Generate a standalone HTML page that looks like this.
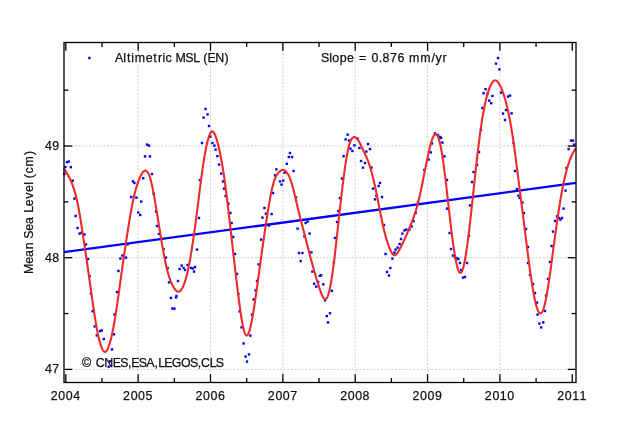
<!DOCTYPE html><html><head><meta charset="utf-8"><style>html,body{margin:0;padding:0;background:#fff;}svg{display:block;will-change:transform;}text{font-family:"Liberation Sans", sans-serif;fill:#111;stroke:#111;stroke-width:0.25px;}</style></head><body>
<svg width="640" height="425" viewBox="0 0 640 425">
<rect width="640" height="425" fill="#fff"/>
<g stroke="#cfcfcf" stroke-width="1" stroke-dasharray="2,1.6" fill="none"><line x1="138.15" y1="42.5" x2="138.15" y2="382.5"/><line x1="210.50" y1="42.5" x2="210.50" y2="382.5"/><line x1="282.85" y1="42.5" x2="282.85" y2="382.5"/><line x1="355.20" y1="42.5" x2="355.20" y2="382.5"/><line x1="427.55" y1="42.5" x2="427.55" y2="382.5"/><line x1="499.90" y1="42.5" x2="499.90" y2="382.5"/><line x1="64" y1="369.40" x2="576" y2="369.40"/><line x1="64" y1="257.70" x2="576" y2="257.70"/><line x1="64" y1="146.00" x2="576" y2="146.00"/></g>
<g fill="#0000ff"><rect x="204.4" y="107.8" width="2.4" height="2.4"/><rect x="206.4" y="113.2" width="2.4" height="2.4"/><rect x="202.4" y="116.4" width="2.4" height="2.4"/><rect x="207.8" y="124.8" width="2.4" height="2.4"/><rect x="496.8" y="56.8" width="2.4" height="2.4"/><rect x="494.8" y="62.4" width="2.4" height="2.4"/><rect x="498.2" y="68.2" width="2.4" height="2.4"/><rect x="484.4" y="88.0" width="2.4" height="2.4"/><rect x="482.4" y="92.0" width="2.4" height="2.4"/><rect x="486.4" y="92.4" width="2.4" height="2.4"/><rect x="491.2" y="94.8" width="2.4" height="2.4"/><rect x="499.8" y="91.4" width="2.4" height="2.4"/><rect x="506.8" y="95.4" width="2.4" height="2.4"/><rect x="508.8" y="94.4" width="2.4" height="2.4"/><rect x="488.0" y="99.4" width="2.4" height="2.4"/><rect x="490.0" y="102.0" width="2.4" height="2.4"/><rect x="481.2" y="106.8" width="2.4" height="2.4"/><rect x="504.8" y="108.8" width="2.4" height="2.4"/><rect x="501.8" y="112.4" width="2.4" height="2.4"/><rect x="510.4" y="112.2" width="2.4" height="2.4"/><rect x="503.8" y="118.8" width="2.4" height="2.4"/><rect x="64.2" y="165.8" width="2.4" height="2.4"/><rect x="65.8" y="161.0" width="2.4" height="2.4"/><rect x="67.5" y="160.3" width="2.4" height="2.4"/><rect x="69.6" y="166.0" width="2.4" height="2.4"/><rect x="71.5" y="179.5" width="2.4" height="2.4"/><rect x="73.2" y="197.4" width="2.4" height="2.4"/><rect x="63.1" y="172.8" width="2.4" height="2.4"/><rect x="131.8" y="180.2" width="2.4" height="2.4"/><rect x="133.2" y="181.8" width="2.4" height="2.4"/><rect x="130.0" y="195.8" width="2.4" height="2.4"/><rect x="135.2" y="196.4" width="2.4" height="2.4"/><rect x="140.0" y="200.4" width="2.4" height="2.4"/><rect x="142.0" y="177.0" width="2.4" height="2.4"/><rect x="143.8" y="155.2" width="2.4" height="2.4"/><rect x="148.8" y="155.2" width="2.4" height="2.4"/><rect x="145.8" y="143.4" width="2.4" height="2.4"/><rect x="147.8" y="144.4" width="2.4" height="2.4"/><rect x="150.8" y="172.8" width="2.4" height="2.4"/><rect x="152.4" y="192.4" width="2.4" height="2.4"/><rect x="154.8" y="210.2" width="2.4" height="2.4"/><rect x="200.8" y="141.8" width="2.4" height="2.4"/><rect x="209.2" y="135.4" width="2.4" height="2.4"/><rect x="211.2" y="141.8" width="2.4" height="2.4"/><rect x="213.2" y="144.4" width="2.4" height="2.4"/><rect x="214.4" y="148.4" width="2.4" height="2.4"/><rect x="216.2" y="155.0" width="2.4" height="2.4"/><rect x="218.0" y="163.4" width="2.4" height="2.4"/><rect x="220.0" y="172.4" width="2.4" height="2.4"/><rect x="221.8" y="180.2" width="2.4" height="2.4"/><rect x="222.8" y="187.4" width="2.4" height="2.4"/><rect x="224.4" y="194.8" width="2.4" height="2.4"/><rect x="227.2" y="202.4" width="2.4" height="2.4"/><rect x="198.8" y="178.8" width="2.4" height="2.4"/><rect x="263.2" y="206.8" width="2.4" height="2.4"/><rect x="271.8" y="191.8" width="2.4" height="2.4"/><rect x="273.8" y="174.2" width="2.4" height="2.4"/><rect x="275.2" y="168.2" width="2.4" height="2.4"/><rect x="278.8" y="180.2" width="2.4" height="2.4"/><rect x="280.4" y="183.4" width="2.4" height="2.4"/><rect x="282.0" y="179.4" width="2.4" height="2.4"/><rect x="283.4" y="171.4" width="2.4" height="2.4"/><rect x="285.6" y="162.6" width="2.4" height="2.4"/><rect x="287.6" y="155.8" width="2.4" height="2.4"/><rect x="288.8" y="151.8" width="2.4" height="2.4"/><rect x="290.8" y="155.8" width="2.4" height="2.4"/><rect x="292.4" y="169.8" width="2.4" height="2.4"/><rect x="294.8" y="196.2" width="2.4" height="2.4"/><rect x="346.4" y="133.4" width="2.4" height="2.4"/><rect x="344.4" y="138.2" width="2.4" height="2.4"/><rect x="347.8" y="139.4" width="2.4" height="2.4"/><rect x="342.4" y="155.0" width="2.4" height="2.4"/><rect x="340.8" y="177.4" width="2.4" height="2.4"/><rect x="338.8" y="196.8" width="2.4" height="2.4"/><rect x="337.2" y="209.8" width="2.4" height="2.4"/><rect x="349.2" y="147.4" width="2.4" height="2.4"/><rect x="351.2" y="149.8" width="2.4" height="2.4"/><rect x="353.2" y="144.2" width="2.4" height="2.4"/><rect x="356.4" y="137.4" width="2.4" height="2.4"/><rect x="358.2" y="146.8" width="2.4" height="2.4"/><rect x="359.8" y="159.8" width="2.4" height="2.4"/><rect x="363.8" y="161.8" width="2.4" height="2.4"/><rect x="361.8" y="166.4" width="2.4" height="2.4"/><rect x="365.2" y="150.4" width="2.4" height="2.4"/><rect x="366.8" y="142.8" width="2.4" height="2.4"/><rect x="368.8" y="147.8" width="2.4" height="2.4"/><rect x="370.4" y="166.4" width="2.4" height="2.4"/><rect x="371.8" y="187.4" width="2.4" height="2.4"/><rect x="373.8" y="198.2" width="2.4" height="2.4"/><rect x="375.2" y="194.7" width="2.4" height="2.4"/><rect x="377.4" y="184.8" width="2.4" height="2.4"/><rect x="378.8" y="181.8" width="2.4" height="2.4"/><rect x="380.8" y="195.8" width="2.4" height="2.4"/><rect x="416.8" y="200.8" width="2.4" height="2.4"/><rect x="423.2" y="168.8" width="2.4" height="2.4"/><rect x="427.4" y="158.3" width="2.4" height="2.4"/><rect x="429.5" y="151.2" width="2.4" height="2.4"/><rect x="430.8" y="142.2" width="2.4" height="2.4"/><rect x="433.8" y="132.2" width="2.4" height="2.4"/><rect x="436.8" y="133.8" width="2.4" height="2.4"/><rect x="438.8" y="135.8" width="2.4" height="2.4"/><rect x="439.8" y="136.8" width="2.4" height="2.4"/><rect x="441.2" y="141.4" width="2.4" height="2.4"/><rect x="443.2" y="155.2" width="2.4" height="2.4"/><rect x="445.8" y="178.8" width="2.4" height="2.4"/><rect x="445.8" y="207.4" width="2.4" height="2.4"/><rect x="479.8" y="128.8" width="2.4" height="2.4"/><rect x="477.8" y="150.8" width="2.4" height="2.4"/><rect x="475.8" y="163.8" width="2.4" height="2.4"/><rect x="472.4" y="170.8" width="2.4" height="2.4"/><rect x="470.8" y="180.8" width="2.4" height="2.4"/><rect x="468.8" y="204.2" width="2.4" height="2.4"/><rect x="512.4" y="141.8" width="2.4" height="2.4"/><rect x="513.8" y="169.8" width="2.4" height="2.4"/><rect x="515.8" y="187.8" width="2.4" height="2.4"/><rect x="517.2" y="194.4" width="2.4" height="2.4"/><rect x="518.4" y="196.8" width="2.4" height="2.4"/><rect x="521.2" y="201.4" width="2.4" height="2.4"/><rect x="562.4" y="207.4" width="2.4" height="2.4"/><rect x="564.4" y="189.4" width="2.4" height="2.4"/><rect x="565.2" y="166.8" width="2.4" height="2.4"/><rect x="567.4" y="147.8" width="2.4" height="2.4"/><rect x="569.8" y="139.4" width="2.4" height="2.4"/><rect x="571.8" y="139.4" width="2.4" height="2.4"/><rect x="572.8" y="143.4" width="2.4" height="2.4"/><rect x="74.4" y="214.8" width="2.4" height="2.4"/><rect x="76.4" y="226.8" width="2.4" height="2.4"/><rect x="78.4" y="232.4" width="2.4" height="2.4"/><rect x="80.4" y="231.4" width="2.4" height="2.4"/><rect x="83.2" y="233.2" width="2.4" height="2.4"/><rect x="84.8" y="243.2" width="2.4" height="2.4"/><rect x="86.8" y="257.8" width="2.4" height="2.4"/><rect x="88.4" y="274.8" width="2.4" height="2.4"/><rect x="89.8" y="292.4" width="2.4" height="2.4"/><rect x="115.8" y="290.8" width="2.4" height="2.4"/><rect x="117.2" y="269.8" width="2.4" height="2.4"/><rect x="119.2" y="257.4" width="2.4" height="2.4"/><rect x="121.2" y="254.4" width="2.4" height="2.4"/><rect x="124.8" y="256.4" width="2.4" height="2.4"/><rect x="126.4" y="243.2" width="2.4" height="2.4"/><rect x="137.0" y="211.3" width="2.4" height="2.4"/><rect x="139.0" y="213.8" width="2.4" height="2.4"/><rect x="155.8" y="224.8" width="2.4" height="2.4"/><rect x="157.8" y="232.8" width="2.4" height="2.4"/><rect x="162.4" y="247.8" width="2.4" height="2.4"/><rect x="164.8" y="256.4" width="2.4" height="2.4"/><rect x="166.4" y="266.8" width="2.4" height="2.4"/><rect x="167.8" y="281.2" width="2.4" height="2.4"/><rect x="175.2" y="294.8" width="2.4" height="2.4"/><rect x="176.8" y="279.8" width="2.4" height="2.4"/><rect x="178.4" y="267.8" width="2.4" height="2.4"/><rect x="180.4" y="264.4" width="2.4" height="2.4"/><rect x="182.4" y="266.8" width="2.4" height="2.4"/><rect x="183.8" y="268.8" width="2.4" height="2.4"/><rect x="186.4" y="263.8" width="2.4" height="2.4"/><rect x="189.8" y="266.8" width="2.4" height="2.4"/><rect x="197.8" y="216.8" width="2.4" height="2.4"/><rect x="195.8" y="248.4" width="2.4" height="2.4"/><rect x="193.8" y="265.8" width="2.4" height="2.4"/><rect x="191.8" y="267.2" width="2.4" height="2.4"/><rect x="192.8" y="270.4" width="2.4" height="2.4"/><rect x="229.2" y="211.8" width="2.4" height="2.4"/><rect x="230.4" y="221.8" width="2.4" height="2.4"/><rect x="232.0" y="235.8" width="2.4" height="2.4"/><rect x="233.8" y="252.8" width="2.4" height="2.4"/><rect x="235.8" y="272.8" width="2.4" height="2.4"/><rect x="237.2" y="292.8" width="2.4" height="2.4"/><rect x="254.4" y="289.2" width="2.4" height="2.4"/><rect x="255.8" y="279.8" width="2.4" height="2.4"/><rect x="257.4" y="263.2" width="2.4" height="2.4"/><rect x="260.0" y="238.4" width="2.4" height="2.4"/><rect x="261.2" y="216.4" width="2.4" height="2.4"/><rect x="264.8" y="212.4" width="2.4" height="2.4"/><rect x="267.8" y="224.4" width="2.4" height="2.4"/><rect x="270.4" y="212.8" width="2.4" height="2.4"/><rect x="296.4" y="227.4" width="2.4" height="2.4"/><rect x="304.4" y="221.8" width="2.4" height="2.4"/><rect x="306.4" y="220.4" width="2.4" height="2.4"/><rect x="308.4" y="232.4" width="2.4" height="2.4"/><rect x="303.2" y="235.2" width="2.4" height="2.4"/><rect x="297.8" y="251.8" width="2.4" height="2.4"/><rect x="301.2" y="251.8" width="2.4" height="2.4"/><rect x="299.5" y="259.9" width="2.4" height="2.4"/><rect x="310.2" y="251.2" width="2.4" height="2.4"/><rect x="311.2" y="270.4" width="2.4" height="2.4"/><rect x="312.9" y="282.5" width="2.4" height="2.4"/><rect x="315.0" y="285.4" width="2.4" height="2.4"/><rect x="318.6" y="274.6" width="2.4" height="2.4"/><rect x="316.9" y="280.7" width="2.4" height="2.4"/><rect x="320.0" y="274.1" width="2.4" height="2.4"/><rect x="322.1" y="283.2" width="2.4" height="2.4"/><rect x="330.6" y="289.6" width="2.4" height="2.4"/><rect x="332.7" y="261.3" width="2.4" height="2.4"/><rect x="333.8" y="236.8" width="2.4" height="2.4"/><rect x="335.8" y="220.8" width="2.4" height="2.4"/><rect x="323.9" y="299.1" width="2.4" height="2.4"/><rect x="328.8" y="312.0" width="2.4" height="2.4"/><rect x="325.6" y="314.9" width="2.4" height="2.4"/><rect x="326.8" y="321.2" width="2.4" height="2.4"/><rect x="382.8" y="223.8" width="2.4" height="2.4"/><rect x="384.4" y="252.8" width="2.4" height="2.4"/><rect x="385.8" y="270.8" width="2.4" height="2.4"/><rect x="387.8" y="274.4" width="2.4" height="2.4"/><rect x="389.2" y="266.8" width="2.4" height="2.4"/><rect x="391.2" y="257.4" width="2.4" height="2.4"/><rect x="393.2" y="251.4" width="2.4" height="2.4"/><rect x="394.4" y="248.4" width="2.4" height="2.4"/><rect x="396.4" y="246.4" width="2.4" height="2.4"/><rect x="398.4" y="242.8" width="2.4" height="2.4"/><rect x="399.8" y="237.8" width="2.4" height="2.4"/><rect x="401.2" y="232.4" width="2.4" height="2.4"/><rect x="403.2" y="229.2" width="2.4" height="2.4"/><rect x="405.2" y="228.4" width="2.4" height="2.4"/><rect x="408.2" y="228.4" width="2.4" height="2.4"/><rect x="410.4" y="225.2" width="2.4" height="2.4"/><rect x="412.4" y="219.8" width="2.4" height="2.4"/><rect x="414.4" y="211.8" width="2.4" height="2.4"/><rect x="448.4" y="231.8" width="2.4" height="2.4"/><rect x="449.8" y="247.8" width="2.4" height="2.4"/><rect x="451.8" y="254.4" width="2.4" height="2.4"/><rect x="453.8" y="256.4" width="2.4" height="2.4"/><rect x="455.8" y="257.2" width="2.4" height="2.4"/><rect x="457.2" y="257.8" width="2.4" height="2.4"/><rect x="458.8" y="261.8" width="2.4" height="2.4"/><rect x="459.8" y="268.8" width="2.4" height="2.4"/><rect x="461.8" y="276.4" width="2.4" height="2.4"/><rect x="463.8" y="275.8" width="2.4" height="2.4"/><rect x="465.8" y="261.8" width="2.4" height="2.4"/><rect x="467.8" y="234.8" width="2.4" height="2.4"/><rect x="522.8" y="211.8" width="2.4" height="2.4"/><rect x="524.8" y="227.8" width="2.4" height="2.4"/><rect x="526.8" y="245.8" width="2.4" height="2.4"/><rect x="526.8" y="261.8" width="2.4" height="2.4"/><rect x="528.8" y="273.8" width="2.4" height="2.4"/><rect x="531.8" y="282.8" width="2.4" height="2.4"/><rect x="533.8" y="291.8" width="2.4" height="2.4"/><rect x="544.8" y="294.4" width="2.4" height="2.4"/><rect x="546.8" y="277.8" width="2.4" height="2.4"/><rect x="548.8" y="260.8" width="2.4" height="2.4"/><rect x="550.4" y="244.8" width="2.4" height="2.4"/><rect x="551.8" y="230.4" width="2.4" height="2.4"/><rect x="553.8" y="219.8" width="2.4" height="2.4"/><rect x="555.8" y="215.2" width="2.4" height="2.4"/><rect x="557.8" y="216.8" width="2.4" height="2.4"/><rect x="559.2" y="218.4" width="2.4" height="2.4"/><rect x="560.8" y="216.8" width="2.4" height="2.4"/><rect x="91.4" y="310.0" width="2.4" height="2.4"/><rect x="93.5" y="325.2" width="2.4" height="2.4"/><rect x="95.6" y="334.2" width="2.4" height="2.4"/><rect x="98.9" y="329.8" width="2.4" height="2.4"/><rect x="100.6" y="329.3" width="2.4" height="2.4"/><rect x="102.6" y="337.8" width="2.4" height="2.4"/><rect x="110.8" y="348.2" width="2.4" height="2.4"/><rect x="112.8" y="333.1" width="2.4" height="2.4"/><rect x="113.3" y="313.3" width="2.4" height="2.4"/><rect x="107.5" y="365.5" width="2.4" height="2.4"/><rect x="108.8" y="360.1" width="2.4" height="2.4"/><rect x="169.8" y="296.8" width="2.4" height="2.4"/><rect x="174.8" y="296.2" width="2.4" height="2.4"/><rect x="171.2" y="307.4" width="2.4" height="2.4"/><rect x="173.2" y="307.4" width="2.4" height="2.4"/><rect x="252.4" y="298.2" width="2.4" height="2.4"/><rect x="250.8" y="313.4" width="2.4" height="2.4"/><rect x="238.4" y="310.2" width="2.4" height="2.4"/><rect x="240.4" y="326.2" width="2.4" height="2.4"/><rect x="249.2" y="334.4" width="2.4" height="2.4"/><rect x="242.4" y="342.2" width="2.4" height="2.4"/><rect x="244.4" y="355.4" width="2.4" height="2.4"/><rect x="247.8" y="353.2" width="2.4" height="2.4"/><rect x="245.8" y="360.4" width="2.4" height="2.4"/><rect x="535.8" y="301.4" width="2.4" height="2.4"/><rect x="536.4" y="313.4" width="2.4" height="2.4"/><rect x="543.8" y="309.8" width="2.4" height="2.4"/><rect x="538.2" y="322.4" width="2.4" height="2.4"/><rect x="542.0" y="321.2" width="2.4" height="2.4"/><rect x="540.0" y="326.2" width="2.4" height="2.4"/></g>
<line x1="64" y1="252.2" x2="576" y2="182.9" stroke="#0000ff" stroke-width="2.3"/>
<path d="M64.00,168.05 L64.20,168.49 L64.40,168.90 L64.60,169.30 L64.80,169.68 L65.00,170.06 L65.20,170.42 L65.40,170.78 L65.60,171.14 L65.80,171.48 L66.00,171.83 L66.20,172.17 L66.40,172.51 L66.60,172.85 L66.80,173.18 L67.00,173.52 L67.20,173.86 L67.40,174.20 L67.60,174.54 L67.80,174.89 L68.00,175.24 L68.20,175.60 L68.40,175.96 L68.60,176.33 L68.80,176.71 L69.00,177.09 L69.20,177.47 L69.40,177.87 L69.60,178.27 L69.80,178.67 L70.00,179.08 L70.20,179.50 L70.40,179.93 L70.60,180.37 L70.80,180.81 L71.00,181.26 L71.20,181.71 L71.40,182.18 L71.60,182.65 L71.80,183.13 L72.00,183.63 L72.20,184.13 L72.40,184.64 L72.60,185.16 L72.80,185.70 L73.00,186.25 L73.20,186.81 L73.40,187.38 L73.60,187.97 L73.80,188.57 L74.00,189.19 L74.20,189.82 L74.40,190.46 L74.60,191.13 L74.80,191.80 L75.00,192.50 L75.20,193.21 L75.40,193.94 L75.60,194.69 L75.80,195.46 L76.00,196.25 L76.20,197.06 L76.40,197.88 L76.60,198.73 L76.80,199.60 L77.00,200.49 L77.20,201.40 L77.40,202.34 L77.60,203.29 L77.80,204.27 L78.00,205.27 L78.20,206.29 L78.40,207.32 L78.60,208.38 L78.80,209.45 L79.00,210.55 L79.20,211.66 L79.40,212.79 L79.60,213.94 L79.80,215.10 L80.00,216.28 L80.20,217.48 L80.40,218.69 L80.60,219.92 L80.80,221.16 L81.00,222.41 L81.20,223.67 L81.40,224.95 L81.60,226.23 L81.80,227.52 L82.00,228.82 L82.20,230.13 L82.40,231.44 L82.60,232.76 L82.80,234.08 L83.00,235.40 L83.20,236.72 L83.40,238.05 L83.60,239.38 L83.80,240.71 L84.00,242.05 L84.20,243.38 L84.40,244.72 L84.60,246.06 L84.80,247.40 L85.00,248.75 L85.20,250.09 L85.40,251.44 L85.60,252.79 L85.80,254.15 L86.00,255.51 L86.20,256.86 L86.40,258.23 L86.60,259.59 L86.80,260.96 L87.00,262.33 L87.20,263.71 L87.40,265.08 L87.60,266.47 L87.80,267.85 L88.00,269.24 L88.20,270.63 L88.40,272.03 L88.60,273.43 L88.80,274.84 L89.00,276.25 L89.20,277.66 L89.40,279.08 L89.60,280.51 L89.80,281.93 L90.00,283.36 L90.20,284.79 L90.40,286.22 L90.60,287.65 L90.80,289.08 L91.00,290.51 L91.20,291.94 L91.40,293.37 L91.60,294.80 L91.80,296.22 L92.00,297.64 L92.20,299.05 L92.40,300.46 L92.60,301.87 L92.80,303.26 L93.00,304.65 L93.20,306.03 L93.40,307.40 L93.60,308.76 L93.80,310.11 L94.00,311.44 L94.20,312.76 L94.40,314.07 L94.60,315.36 L94.80,316.63 L95.00,317.89 L95.20,319.13 L95.40,320.35 L95.60,321.55 L95.80,322.73 L96.00,323.89 L96.20,325.04 L96.40,326.16 L96.60,327.26 L96.80,328.34 L97.00,329.40 L97.20,330.44 L97.40,331.46 L97.60,332.45 L97.80,333.42 L98.00,334.37 L98.20,335.30 L98.40,336.20 L98.60,337.08 L98.80,337.94 L99.00,338.77 L99.20,339.58 L99.40,340.37 L99.60,341.13 L99.80,341.87 L100.00,342.59 L100.20,343.28 L100.40,343.95 L100.60,344.60 L100.80,345.22 L101.00,345.82 L101.20,346.39 L101.40,346.94 L101.60,347.46 L101.80,347.96 L102.00,348.43 L102.20,348.87 L102.40,349.29 L102.60,349.68 L102.80,350.03 L103.00,350.36 L103.20,350.66 L103.40,350.92 L103.60,351.16 L103.80,351.36 L104.00,351.52 L104.20,351.66 L104.40,351.76 L104.60,351.82 L104.80,351.85 L105.00,351.85 L105.20,351.82 L105.40,351.75 L105.60,351.66 L105.80,351.53 L106.00,351.37 L106.20,351.18 L106.40,350.96 L106.60,350.70 L106.80,350.42 L107.00,350.11 L107.20,349.77 L107.40,349.41 L107.60,349.01 L107.80,348.59 L108.00,348.14 L108.20,347.66 L108.40,347.16 L108.60,346.64 L108.80,346.09 L109.00,345.51 L109.20,344.92 L109.40,344.30 L109.60,343.66 L109.80,343.00 L110.00,342.31 L110.20,341.61 L110.40,340.89 L110.60,340.15 L110.80,339.38 L111.00,338.60 L111.20,337.79 L111.40,336.97 L111.60,336.12 L111.80,335.26 L112.00,334.37 L112.20,333.46 L112.40,332.53 L112.60,331.58 L112.80,330.60 L113.00,329.61 L113.20,328.59 L113.40,327.55 L113.60,326.49 L113.80,325.42 L114.00,324.32 L114.20,323.20 L114.40,322.06 L114.60,320.90 L114.80,319.72 L115.00,318.52 L115.20,317.31 L115.40,316.08 L115.60,314.83 L115.80,313.56 L116.00,312.28 L116.20,310.98 L116.40,309.67 L116.60,308.34 L116.80,306.99 L117.00,305.64 L117.20,304.27 L117.40,302.89 L117.60,301.50 L117.80,300.10 L118.00,298.70 L118.20,297.28 L118.40,295.86 L118.60,294.43 L118.80,293.00 L119.00,291.56 L119.20,290.13 L119.40,288.68 L119.60,287.24 L119.80,285.79 L120.00,284.35 L120.20,282.90 L120.40,281.45 L120.60,280.01 L120.80,278.56 L121.00,277.11 L121.20,275.67 L121.40,274.23 L121.60,272.79 L121.80,271.36 L122.00,269.93 L122.20,268.50 L122.40,267.08 L122.60,265.67 L122.80,264.26 L123.00,262.85 L123.20,261.45 L123.40,260.05 L123.60,258.65 L123.80,257.26 L124.00,255.88 L124.20,254.50 L124.40,253.12 L124.60,251.75 L124.80,250.39 L125.00,249.02 L125.20,247.67 L125.40,246.32 L125.60,244.97 L125.80,243.63 L126.00,242.29 L126.20,240.96 L126.40,239.63 L126.60,238.31 L126.80,237.00 L127.00,235.69 L127.20,234.39 L127.40,233.09 L127.60,231.80 L127.80,230.52 L128.00,229.24 L128.20,227.98 L128.40,226.72 L128.60,225.46 L128.80,224.22 L129.00,222.99 L129.20,221.76 L129.40,220.55 L129.60,219.34 L129.80,218.15 L130.00,216.97 L130.20,215.80 L130.40,214.65 L130.60,213.51 L130.80,212.38 L131.00,211.26 L131.20,210.17 L131.40,209.08 L131.60,208.01 L131.80,206.96 L132.00,205.92 L132.20,204.90 L132.40,203.89 L132.60,202.90 L132.80,201.93 L133.00,200.97 L133.20,200.03 L133.40,199.10 L133.60,198.19 L133.80,197.30 L134.00,196.43 L134.20,195.57 L134.40,194.73 L134.60,193.91 L134.80,193.10 L135.00,192.31 L135.20,191.53 L135.40,190.78 L135.60,190.03 L135.80,189.31 L136.00,188.59 L136.20,187.90 L136.40,187.22 L136.60,186.55 L136.80,185.90 L137.00,185.26 L137.20,184.64 L137.40,184.03 L137.60,183.43 L137.80,182.85 L138.00,182.28 L138.20,181.72 L138.40,181.18 L138.60,180.65 L138.80,180.13 L139.00,179.63 L139.20,179.13 L139.40,178.65 L139.60,178.18 L139.80,177.72 L140.00,177.28 L140.20,176.84 L140.40,176.42 L140.60,176.00 L140.80,175.60 L141.00,175.21 L141.20,174.84 L141.40,174.48 L141.60,174.13 L141.80,173.79 L142.00,173.47 L142.20,173.17 L142.40,172.88 L142.60,172.60 L142.80,172.34 L143.00,172.10 L143.20,171.87 L143.40,171.66 L143.60,171.47 L143.80,171.29 L144.00,171.14 L144.20,171.00 L144.40,170.88 L144.60,170.78 L144.80,170.71 L145.00,170.65 L145.20,170.62 L145.40,170.60 L145.60,170.61 L145.80,170.65 L146.00,170.71 L146.20,170.79 L146.40,170.90 L146.60,171.03 L146.80,171.19 L147.00,171.38 L147.20,171.59 L147.40,171.83 L147.60,172.09 L147.80,172.39 L148.00,172.71 L148.20,173.06 L148.40,173.45 L148.60,173.86 L148.80,174.30 L149.00,174.77 L149.20,175.27 L149.40,175.81 L149.60,176.37 L149.80,176.97 L150.00,177.59 L150.20,178.24 L150.40,178.92 L150.60,179.63 L150.80,180.37 L151.00,181.13 L151.20,181.92 L151.40,182.74 L151.60,183.58 L151.80,184.45 L152.00,185.34 L152.20,186.26 L152.40,187.20 L152.60,188.16 L152.80,189.14 L153.00,190.15 L153.20,191.17 L153.40,192.22 L153.60,193.28 L153.80,194.36 L154.00,195.45 L154.20,196.56 L154.40,197.69 L154.60,198.82 L154.80,199.98 L155.00,201.14 L155.20,202.31 L155.40,203.49 L155.60,204.69 L155.80,205.89 L156.00,207.10 L156.20,208.31 L156.40,209.54 L156.60,210.76 L156.80,212.00 L157.00,213.24 L157.20,214.48 L157.40,215.72 L157.60,216.97 L157.80,218.22 L158.00,219.47 L158.20,220.73 L158.40,221.98 L158.60,223.23 L158.80,224.48 L159.00,225.73 L159.20,226.97 L159.40,228.22 L159.60,229.46 L159.80,230.70 L160.00,231.93 L160.20,233.16 L160.40,234.39 L160.60,235.60 L160.80,236.82 L161.00,238.02 L161.20,239.22 L161.40,240.42 L161.60,241.60 L161.80,242.78 L162.00,243.94 L162.20,245.10 L162.40,246.25 L162.60,247.39 L162.80,248.52 L163.00,249.64 L163.20,250.75 L163.40,251.84 L163.60,252.93 L163.80,254.00 L164.00,255.06 L164.20,256.10 L164.40,257.14 L164.60,258.16 L164.80,259.16 L165.00,260.15 L165.20,261.13 L165.40,262.09 L165.60,263.03 L165.80,263.96 L166.00,264.87 L166.20,265.77 L166.40,266.64 L166.60,267.51 L166.80,268.35 L167.00,269.17 L167.20,269.98 L167.40,270.77 L167.60,271.54 L167.80,272.29 L168.00,273.03 L168.20,273.75 L168.40,274.44 L168.60,275.13 L168.80,275.79 L169.00,276.44 L169.20,277.06 L169.40,277.68 L169.60,278.27 L169.80,278.85 L170.00,279.41 L170.20,279.95 L170.40,280.48 L170.60,280.99 L170.80,281.49 L171.00,281.97 L171.20,282.44 L171.40,282.90 L171.60,283.34 L171.80,283.77 L172.00,284.19 L172.20,284.59 L172.40,284.99 L172.60,285.37 L172.80,285.75 L173.00,286.12 L173.20,286.48 L173.40,286.83 L173.60,287.17 L173.80,287.50 L174.00,287.83 L174.20,288.14 L174.40,288.44 L174.60,288.73 L174.80,289.01 L175.00,289.28 L175.20,289.53 L175.40,289.78 L175.60,290.01 L175.80,290.23 L176.00,290.43 L176.20,290.62 L176.40,290.80 L176.60,290.96 L176.80,291.11 L177.00,291.24 L177.20,291.35 L177.40,291.45 L177.60,291.53 L177.80,291.60 L178.00,291.64 L178.20,291.67 L178.40,291.68 L178.60,291.67 L178.80,291.64 L179.00,291.59 L179.20,291.52 L179.40,291.43 L179.60,291.32 L179.80,291.19 L180.00,291.04 L180.20,290.88 L180.40,290.69 L180.60,290.48 L180.80,290.26 L181.00,290.01 L181.20,289.75 L181.40,289.47 L181.60,289.17 L181.80,288.86 L182.00,288.53 L182.20,288.18 L182.40,287.81 L182.60,287.43 L182.80,287.03 L183.00,286.61 L183.20,286.18 L183.40,285.72 L183.60,285.25 L183.80,284.76 L184.00,284.25 L184.20,283.73 L184.40,283.18 L184.60,282.62 L184.80,282.03 L185.00,281.43 L185.20,280.81 L185.40,280.17 L185.60,279.51 L185.80,278.82 L186.00,278.12 L186.20,277.40 L186.40,276.66 L186.60,275.90 L186.80,275.12 L187.00,274.32 L187.20,273.49 L187.40,272.65 L187.60,271.78 L187.80,270.89 L188.00,269.98 L188.20,269.05 L188.40,268.10 L188.60,267.13 L188.80,266.13 L189.00,265.12 L189.20,264.09 L189.40,263.03 L189.60,261.96 L189.80,260.87 L190.00,259.76 L190.20,258.63 L190.40,257.48 L190.60,256.32 L190.80,255.14 L191.00,253.94 L191.20,252.73 L191.40,251.50 L191.60,250.25 L191.80,248.99 L192.00,247.71 L192.20,246.42 L192.40,245.12 L192.60,243.80 L192.80,242.46 L193.00,241.12 L193.20,239.76 L193.40,238.39 L193.60,237.00 L193.80,235.61 L194.00,234.20 L194.20,232.78 L194.40,231.35 L194.60,229.91 L194.80,228.46 L195.00,227.00 L195.20,225.53 L195.40,224.05 L195.60,222.56 L195.80,221.06 L196.00,219.55 L196.20,218.03 L196.40,216.51 L196.60,214.97 L196.80,213.43 L197.00,211.88 L197.20,210.33 L197.40,208.76 L197.60,207.20 L197.80,205.62 L198.00,204.04 L198.20,202.46 L198.40,200.88 L198.60,199.30 L198.80,197.71 L199.00,196.12 L199.20,194.54 L199.40,192.96 L199.60,191.38 L199.80,189.80 L200.00,188.23 L200.20,186.66 L200.40,185.10 L200.60,183.54 L200.80,182.00 L201.00,180.46 L201.20,178.94 L201.40,177.43 L201.60,175.93 L201.80,174.44 L202.00,172.98 L202.20,171.53 L202.40,170.09 L202.60,168.68 L202.80,167.29 L203.00,165.92 L203.20,164.57 L203.40,163.25 L203.60,161.95 L203.80,160.67 L204.00,159.42 L204.20,158.19 L204.40,156.99 L204.60,155.81 L204.80,154.66 L205.00,153.53 L205.20,152.43 L205.40,151.35 L205.60,150.30 L205.80,149.27 L206.00,148.28 L206.20,147.30 L206.40,146.36 L206.60,145.44 L206.80,144.55 L207.00,143.68 L207.20,142.84 L207.40,142.03 L207.60,141.25 L207.80,140.49 L208.00,139.76 L208.20,139.06 L208.40,138.38 L208.60,137.73 L208.80,137.11 L209.00,136.52 L209.20,135.95 L209.40,135.41 L209.60,134.91 L209.80,134.43 L210.00,133.98 L210.20,133.57 L210.40,133.19 L210.60,132.84 L210.80,132.53 L211.00,132.25 L211.20,132.01 L211.40,131.81 L211.60,131.65 L211.80,131.53 L212.00,131.45 L212.20,131.42 L212.40,131.42 L212.60,131.46 L212.80,131.55 L213.00,131.67 L213.20,131.83 L213.40,132.02 L213.60,132.25 L213.80,132.51 L214.00,132.81 L214.20,133.14 L214.40,133.51 L214.60,133.90 L214.80,134.32 L215.00,134.77 L215.20,135.25 L215.40,135.76 L215.60,136.29 L215.80,136.85 L216.00,137.43 L216.20,138.04 L216.40,138.66 L216.60,139.31 L216.80,139.98 L217.00,140.67 L217.20,141.38 L217.40,142.11 L217.60,142.85 L217.80,143.61 L218.00,144.39 L218.20,145.18 L218.40,145.98 L218.60,146.81 L218.80,147.64 L219.00,148.49 L219.20,149.36 L219.40,150.25 L219.60,151.15 L219.80,152.07 L220.00,153.01 L220.20,153.97 L220.40,154.94 L220.60,155.94 L220.80,156.95 L221.00,157.99 L221.20,159.04 L221.40,160.11 L221.60,161.21 L221.80,162.32 L222.00,163.46 L222.20,164.61 L222.40,165.79 L222.60,166.99 L222.80,168.21 L223.00,169.45 L223.20,170.71 L223.40,171.99 L223.60,173.30 L223.80,174.62 L224.00,175.97 L224.20,177.34 L224.40,178.73 L224.60,180.15 L224.80,181.58 L225.00,183.04 L225.20,184.51 L225.40,186.00 L225.60,187.51 L225.80,189.04 L226.00,190.58 L226.20,192.15 L226.40,193.72 L226.60,195.32 L226.80,196.92 L227.00,198.55 L227.20,200.18 L227.40,201.83 L227.60,203.50 L227.80,205.17 L228.00,206.85 L228.20,208.55 L228.40,210.25 L228.60,211.97 L228.80,213.69 L229.00,215.42 L229.20,217.15 L229.40,218.90 L229.60,220.64 L229.80,222.39 L230.00,224.15 L230.20,225.91 L230.40,227.67 L230.60,229.43 L230.80,231.20 L231.00,232.96 L231.20,234.73 L231.40,236.50 L231.60,238.27 L231.80,240.04 L232.00,241.80 L232.20,243.57 L232.40,245.33 L232.60,247.09 L232.80,248.85 L233.00,250.61 L233.20,252.36 L233.40,254.11 L233.60,255.86 L233.80,257.60 L234.00,259.34 L234.20,261.07 L234.40,262.80 L234.60,264.52 L234.80,266.24 L235.00,267.96 L235.20,269.67 L235.40,271.37 L235.60,273.07 L235.80,274.76 L236.00,276.45 L236.20,278.13 L236.40,279.80 L236.60,281.47 L236.80,283.12 L237.00,284.77 L237.20,286.41 L237.40,288.05 L237.60,289.67 L237.80,291.28 L238.00,292.88 L238.20,294.46 L238.40,296.04 L238.60,297.60 L238.80,299.15 L239.00,300.68 L239.20,302.20 L239.40,303.71 L239.60,305.19 L239.80,306.66 L240.00,308.10 L240.20,309.53 L240.40,310.93 L240.60,312.30 L240.80,313.65 L241.00,314.97 L241.20,316.26 L241.40,317.52 L241.60,318.75 L241.80,319.95 L242.00,321.11 L242.20,322.23 L242.40,323.31 L242.60,324.36 L242.80,325.36 L243.00,326.33 L243.20,327.25 L243.40,328.13 L243.60,328.96 L243.80,329.75 L244.00,330.49 L244.20,331.18 L244.40,331.83 L244.60,332.42 L244.80,332.97 L245.00,333.46 L245.20,333.89 L245.40,334.28 L245.60,334.61 L245.80,334.89 L246.00,335.11 L246.20,335.28 L246.40,335.40 L246.60,335.47 L246.80,335.48 L247.00,335.44 L247.20,335.35 L247.40,335.20 L247.60,335.01 L247.80,334.76 L248.00,334.46 L248.20,334.11 L248.40,333.71 L248.60,333.26 L248.80,332.76 L249.00,332.21 L249.20,331.63 L249.40,330.99 L249.60,330.32 L249.80,329.61 L250.00,328.86 L250.20,328.07 L250.40,327.24 L250.60,326.38 L250.80,325.49 L251.00,324.57 L251.20,323.62 L251.40,322.64 L251.60,321.63 L251.80,320.59 L252.00,319.53 L252.20,318.45 L252.40,317.34 L252.60,316.21 L252.80,315.05 L253.00,313.88 L253.20,312.69 L253.40,311.47 L253.60,310.25 L253.80,309.00 L254.00,307.74 L254.20,306.46 L254.40,305.17 L254.60,303.87 L254.80,302.56 L255.00,301.23 L255.20,299.89 L255.40,298.54 L255.60,297.17 L255.80,295.80 L256.00,294.42 L256.20,293.03 L256.40,291.63 L256.60,290.22 L256.80,288.80 L257.00,287.37 L257.20,285.94 L257.40,284.50 L257.60,283.06 L257.80,281.61 L258.00,280.16 L258.20,278.70 L258.40,277.24 L258.60,275.78 L258.80,274.31 L259.00,272.85 L259.20,271.38 L259.40,269.92 L259.60,268.45 L259.80,266.99 L260.00,265.52 L260.20,264.07 L260.40,262.61 L260.60,261.16 L260.80,259.70 L261.00,258.26 L261.20,256.81 L261.40,255.37 L261.60,253.94 L261.80,252.51 L262.00,251.08 L262.20,249.65 L262.40,248.23 L262.60,246.82 L262.80,245.41 L263.00,244.00 L263.20,242.60 L263.40,241.21 L263.60,239.82 L263.80,238.44 L264.00,237.06 L264.20,235.68 L264.40,234.31 L264.60,232.95 L264.80,231.59 L265.00,230.24 L265.20,228.89 L265.40,227.55 L265.60,226.21 L265.80,224.88 L266.00,223.55 L266.20,222.23 L266.40,220.91 L266.60,219.60 L266.80,218.30 L267.00,217.00 L267.20,215.72 L267.40,214.44 L267.60,213.17 L267.80,211.91 L268.00,210.66 L268.20,209.42 L268.40,208.20 L268.60,206.98 L268.80,205.78 L269.00,204.59 L269.20,203.41 L269.40,202.25 L269.60,201.10 L269.80,199.97 L270.00,198.86 L270.20,197.77 L270.40,196.69 L270.60,195.63 L270.80,194.60 L271.00,193.59 L271.20,192.59 L271.40,191.63 L271.60,190.68 L271.80,189.77 L272.00,188.87 L272.20,188.01 L272.40,187.17 L272.60,186.36 L272.80,185.57 L273.00,184.81 L273.20,184.08 L273.40,183.37 L273.60,182.69 L273.80,182.04 L274.00,181.41 L274.20,180.80 L274.40,180.22 L274.60,179.66 L274.80,179.13 L275.00,178.62 L275.20,178.14 L275.40,177.68 L275.60,177.24 L275.80,176.82 L276.00,176.42 L276.20,176.04 L276.40,175.68 L276.60,175.33 L276.80,175.00 L277.00,174.69 L277.20,174.39 L277.40,174.10 L277.60,173.82 L277.80,173.55 L278.00,173.29 L278.20,173.05 L278.40,172.80 L278.60,172.57 L278.80,172.35 L279.00,172.13 L279.20,171.93 L279.40,171.73 L279.60,171.54 L279.80,171.37 L280.00,171.20 L280.20,171.04 L280.40,170.89 L280.60,170.76 L280.80,170.63 L281.00,170.51 L281.20,170.41 L281.40,170.31 L281.60,170.23 L281.80,170.16 L282.00,170.10 L282.20,170.05 L282.40,170.01 L282.60,169.99 L282.80,169.97 L283.00,169.97 L283.20,169.99 L283.40,170.02 L283.60,170.06 L283.80,170.11 L284.00,170.18 L284.20,170.26 L284.40,170.35 L284.60,170.46 L284.80,170.58 L285.00,170.72 L285.20,170.87 L285.40,171.03 L285.60,171.21 L285.80,171.39 L286.00,171.59 L286.20,171.81 L286.40,172.03 L286.60,172.27 L286.80,172.51 L287.00,172.77 L287.20,173.05 L287.40,173.33 L287.60,173.63 L287.80,173.94 L288.00,174.26 L288.20,174.60 L288.40,174.95 L288.60,175.32 L288.80,175.70 L289.00,176.10 L289.20,176.52 L289.40,176.95 L289.60,177.41 L289.80,177.88 L290.00,178.37 L290.20,178.88 L290.40,179.41 L290.60,179.96 L290.80,180.53 L291.00,181.12 L291.20,181.72 L291.40,182.35 L291.60,182.99 L291.80,183.64 L292.00,184.32 L292.20,185.01 L292.40,185.72 L292.60,186.44 L292.80,187.17 L293.00,187.93 L293.20,188.69 L293.40,189.47 L293.60,190.27 L293.80,191.07 L294.00,191.89 L294.20,192.71 L294.40,193.54 L294.60,194.38 L294.80,195.22 L295.00,196.07 L295.20,196.92 L295.40,197.78 L295.60,198.64 L295.80,199.49 L296.00,200.35 L296.20,201.21 L296.40,202.06 L296.60,202.91 L296.80,203.76 L297.00,204.60 L297.20,205.45 L297.40,206.29 L297.60,207.13 L297.80,207.96 L298.00,208.79 L298.20,209.62 L298.40,210.44 L298.60,211.26 L298.80,212.07 L299.00,212.88 L299.20,213.68 L299.40,214.48 L299.60,215.28 L299.80,216.07 L300.00,216.86 L300.20,217.64 L300.40,218.42 L300.60,219.20 L300.80,219.97 L301.00,220.75 L301.20,221.52 L301.40,222.29 L301.60,223.06 L301.80,223.83 L302.00,224.59 L302.20,225.36 L302.40,226.13 L302.60,226.90 L302.80,227.66 L303.00,228.43 L303.20,229.20 L303.40,229.96 L303.60,230.73 L303.80,231.50 L304.00,232.27 L304.20,233.04 L304.40,233.82 L304.60,234.59 L304.80,235.36 L305.00,236.14 L305.20,236.92 L305.40,237.70 L305.60,238.48 L305.80,239.26 L306.00,240.04 L306.20,240.83 L306.40,241.61 L306.60,242.39 L306.80,243.18 L307.00,243.96 L307.20,244.74 L307.40,245.53 L307.60,246.31 L307.80,247.09 L308.00,247.86 L308.20,248.64 L308.40,249.41 L308.60,250.19 L308.80,250.96 L309.00,251.73 L309.20,252.49 L309.40,253.26 L309.60,254.02 L309.80,254.78 L310.00,255.54 L310.20,256.29 L310.40,257.04 L310.60,257.79 L310.80,258.54 L311.00,259.28 L311.20,260.02 L311.40,260.76 L311.60,261.49 L311.80,262.22 L312.00,262.95 L312.20,263.68 L312.40,264.41 L312.60,265.13 L312.80,265.85 L313.00,266.57 L313.20,267.28 L313.40,268.00 L313.60,268.71 L313.80,269.42 L314.00,270.13 L314.20,270.84 L314.40,271.54 L314.60,272.25 L314.80,272.95 L315.00,273.65 L315.20,274.35 L315.40,275.04 L315.60,275.73 L315.80,276.42 L316.00,277.11 L316.20,277.79 L316.40,278.47 L316.60,279.14 L316.80,279.81 L317.00,280.48 L317.20,281.14 L317.40,281.79 L317.60,282.45 L317.80,283.09 L318.00,283.73 L318.20,284.37 L318.40,285.00 L318.60,285.63 L318.80,286.24 L319.00,286.86 L319.20,287.46 L319.40,288.07 L319.60,288.66 L319.80,289.25 L320.00,289.83 L320.20,290.40 L320.40,290.97 L320.60,291.52 L320.80,292.07 L321.00,292.60 L321.20,293.12 L321.40,293.63 L321.60,294.13 L321.80,294.60 L322.00,295.06 L322.20,295.51 L322.40,295.93 L322.60,296.33 L322.80,296.72 L323.00,297.07 L323.20,297.41 L323.40,297.72 L323.60,298.01 L323.80,298.26 L324.00,298.49 L324.20,298.69 L324.40,298.86 L324.60,298.99 L324.80,299.09 L325.00,299.16 L325.20,299.19 L325.40,299.18 L325.60,299.14 L325.80,299.05 L326.00,298.92 L326.20,298.75 L326.40,298.54 L326.60,298.29 L326.80,297.99 L327.00,297.65 L327.20,297.27 L327.40,296.85 L327.60,296.39 L327.80,295.89 L328.00,295.35 L328.20,294.76 L328.40,294.14 L328.60,293.47 L328.80,292.77 L329.00,292.02 L329.20,291.24 L329.40,290.42 L329.60,289.56 L329.80,288.66 L330.00,287.72 L330.20,286.74 L330.40,285.73 L330.60,284.68 L330.80,283.59 L331.00,282.47 L331.20,281.31 L331.40,280.12 L331.60,278.89 L331.80,277.62 L332.00,276.33 L332.20,275.00 L332.40,273.63 L332.60,272.23 L332.80,270.81 L333.00,269.35 L333.20,267.87 L333.40,266.35 L333.60,264.82 L333.80,263.25 L334.00,261.66 L334.20,260.05 L334.40,258.42 L334.60,256.76 L334.80,255.09 L335.00,253.40 L335.20,251.68 L335.40,249.96 L335.60,248.21 L335.80,246.46 L336.00,244.69 L336.20,242.90 L336.40,241.11 L336.60,239.31 L336.80,237.50 L337.00,235.68 L337.20,233.86 L337.40,232.03 L337.60,230.20 L337.80,228.37 L338.00,226.53 L338.20,224.70 L338.40,222.86 L338.60,221.03 L338.80,219.20 L339.00,217.37 L339.20,215.55 L339.40,213.73 L339.60,211.92 L339.80,210.12 L340.00,208.32 L340.20,206.53 L340.40,204.75 L340.60,202.98 L340.80,201.22 L341.00,199.47 L341.20,197.74 L341.40,196.02 L341.60,194.31 L341.80,192.61 L342.00,190.93 L342.20,189.26 L342.40,187.61 L342.60,185.97 L342.80,184.35 L343.00,182.75 L343.20,181.16 L343.40,179.59 L343.60,178.04 L343.80,176.51 L344.00,174.99 L344.20,173.49 L344.40,172.02 L344.60,170.56 L344.80,169.13 L345.00,167.72 L345.20,166.33 L345.40,164.97 L345.60,163.63 L345.80,162.32 L346.00,161.04 L346.20,159.79 L346.40,158.57 L346.60,157.38 L346.80,156.22 L347.00,155.09 L347.20,154.00 L347.40,152.94 L347.60,151.91 L347.80,150.92 L348.00,149.97 L348.20,149.05 L348.40,148.17 L348.60,147.32 L348.80,146.51 L349.00,145.73 L349.20,144.99 L349.40,144.29 L349.60,143.63 L349.80,143.00 L350.00,142.41 L350.20,141.86 L350.40,141.35 L350.60,140.87 L350.80,140.43 L351.00,140.02 L351.20,139.64 L351.40,139.30 L351.60,138.98 L351.80,138.70 L352.00,138.44 L352.20,138.21 L352.40,138.00 L352.60,137.82 L352.80,137.66 L353.00,137.52 L353.20,137.41 L353.40,137.31 L353.60,137.24 L353.80,137.18 L354.00,137.15 L354.20,137.13 L354.40,137.13 L354.60,137.15 L354.80,137.19 L355.00,137.25 L355.20,137.32 L355.40,137.41 L355.60,137.52 L355.80,137.64 L356.00,137.78 L356.20,137.94 L356.40,138.11 L356.60,138.30 L356.80,138.50 L357.00,138.71 L357.20,138.94 L357.40,139.19 L357.60,139.44 L357.80,139.71 L358.00,140.00 L358.20,140.29 L358.40,140.60 L358.60,140.92 L358.80,141.25 L359.00,141.59 L359.20,141.94 L359.40,142.30 L359.60,142.67 L359.80,143.05 L360.00,143.44 L360.20,143.83 L360.40,144.24 L360.60,144.64 L360.80,145.06 L361.00,145.47 L361.20,145.89 L361.40,146.32 L361.60,146.74 L361.80,147.17 L362.00,147.60 L362.20,148.03 L362.40,148.46 L362.60,148.89 L362.80,149.32 L363.00,149.75 L363.20,150.18 L363.40,150.61 L363.60,151.04 L363.80,151.47 L364.00,151.90 L364.20,152.33 L364.40,152.76 L364.60,153.19 L364.80,153.62 L365.00,154.05 L365.20,154.48 L365.40,154.91 L365.60,155.34 L365.80,155.78 L366.00,156.22 L366.20,156.66 L366.40,157.10 L366.60,157.55 L366.80,158.01 L367.00,158.47 L367.20,158.94 L367.40,159.42 L367.60,159.91 L367.80,160.41 L368.00,160.92 L368.20,161.44 L368.40,161.97 L368.60,162.51 L368.80,163.06 L369.00,163.63 L369.20,164.21 L369.40,164.80 L369.60,165.40 L369.80,166.02 L370.00,166.65 L370.20,167.29 L370.40,167.94 L370.60,168.61 L370.80,169.29 L371.00,169.99 L371.20,170.70 L371.40,171.42 L371.60,172.16 L371.80,172.91 L372.00,173.67 L372.20,174.44 L372.40,175.23 L372.60,176.03 L372.80,176.83 L373.00,177.65 L373.20,178.48 L373.40,179.31 L373.60,180.16 L373.80,181.01 L374.00,181.88 L374.20,182.75 L374.40,183.62 L374.60,184.51 L374.80,185.40 L375.00,186.31 L375.20,187.22 L375.40,188.13 L375.60,189.06 L375.80,189.99 L376.00,190.93 L376.20,191.87 L376.40,192.83 L376.60,193.79 L376.80,194.76 L377.00,195.73 L377.20,196.72 L377.40,197.71 L377.60,198.70 L377.80,199.70 L378.00,200.71 L378.20,201.72 L378.40,202.73 L378.60,203.75 L378.80,204.77 L379.00,205.80 L379.20,206.82 L379.40,207.85 L379.60,208.88 L379.80,209.91 L380.00,210.94 L380.20,211.97 L380.40,212.99 L380.60,214.02 L380.80,215.04 L381.00,216.05 L381.20,217.06 L381.40,218.07 L381.60,219.06 L381.80,220.05 L382.00,221.03 L382.20,222.00 L382.40,222.96 L382.60,223.90 L382.80,224.83 L383.00,225.75 L383.20,226.65 L383.40,227.54 L383.60,228.41 L383.80,229.26 L384.00,230.10 L384.20,230.93 L384.40,231.74 L384.60,232.53 L384.80,233.31 L385.00,234.07 L385.20,234.82 L385.40,235.55 L385.60,236.27 L385.80,236.98 L386.00,237.66 L386.20,238.34 L386.40,239.00 L386.60,239.64 L386.80,240.27 L387.00,240.89 L387.20,241.50 L387.40,242.10 L387.60,242.68 L387.80,243.25 L388.00,243.82 L388.20,244.37 L388.40,244.92 L388.60,245.46 L388.80,245.99 L389.00,246.51 L389.20,247.03 L389.40,247.53 L389.60,248.04 L389.80,248.53 L390.00,249.01 L390.20,249.48 L390.40,249.94 L390.60,250.38 L390.80,250.81 L391.00,251.23 L391.20,251.62 L391.40,252.01 L391.60,252.37 L391.80,252.72 L392.00,253.04 L392.20,253.35 L392.40,253.63 L392.60,253.89 L392.80,254.13 L393.00,254.35 L393.20,254.54 L393.40,254.71 L393.60,254.86 L393.80,254.98 L394.00,255.07 L394.20,255.14 L394.40,255.19 L394.60,255.20 L394.80,255.19 L395.00,255.15 L395.20,255.09 L395.40,255.00 L395.60,254.88 L395.80,254.74 L396.00,254.57 L396.20,254.39 L396.40,254.19 L396.60,253.96 L396.80,253.73 L397.00,253.47 L397.20,253.21 L397.40,252.93 L397.60,252.64 L397.80,252.34 L398.00,252.03 L398.20,251.71 L398.40,251.39 L398.60,251.07 L398.80,250.73 L399.00,250.40 L399.20,250.05 L399.40,249.70 L399.60,249.35 L399.80,248.99 L400.00,248.62 L400.20,248.25 L400.40,247.88 L400.60,247.50 L400.80,247.12 L401.00,246.74 L401.20,246.35 L401.40,245.96 L401.60,245.56 L401.80,245.16 L402.00,244.76 L402.20,244.35 L402.40,243.94 L402.60,243.53 L402.80,243.12 L403.00,242.70 L403.20,242.27 L403.40,241.85 L403.60,241.42 L403.80,240.99 L404.00,240.55 L404.20,240.12 L404.40,239.68 L404.60,239.23 L404.80,238.79 L405.00,238.34 L405.20,237.88 L405.40,237.43 L405.60,236.97 L405.80,236.52 L406.00,236.06 L406.20,235.59 L406.40,235.13 L406.60,234.66 L406.80,234.19 L407.00,233.72 L407.20,233.25 L407.40,232.78 L407.60,232.31 L407.80,231.83 L408.00,231.36 L408.20,230.88 L408.40,230.40 L408.60,229.92 L408.80,229.44 L409.00,228.95 L409.20,228.47 L409.40,227.98 L409.60,227.50 L409.80,227.01 L410.00,226.52 L410.20,226.03 L410.40,225.54 L410.60,225.04 L410.80,224.55 L411.00,224.05 L411.20,223.55 L411.40,223.05 L411.60,222.54 L411.80,222.03 L412.00,221.52 L412.20,221.00 L412.40,220.48 L412.60,219.95 L412.80,219.42 L413.00,218.89 L413.20,218.35 L413.40,217.80 L413.60,217.25 L413.80,216.70 L414.00,216.13 L414.20,215.56 L414.40,214.98 L414.60,214.40 L414.80,213.80 L415.00,213.20 L415.20,212.59 L415.40,211.96 L415.60,211.33 L415.80,210.69 L416.00,210.04 L416.20,209.38 L416.40,208.70 L416.60,208.02 L416.80,207.32 L417.00,206.62 L417.20,205.90 L417.40,205.17 L417.60,204.42 L417.80,203.67 L418.00,202.90 L418.20,202.12 L418.40,201.33 L418.60,200.53 L418.80,199.71 L419.00,198.88 L419.20,198.04 L419.40,197.19 L419.60,196.32 L419.80,195.45 L420.00,194.56 L420.20,193.66 L420.40,192.75 L420.60,191.83 L420.80,190.91 L421.00,189.97 L421.20,189.03 L421.40,188.07 L421.60,187.11 L421.80,186.15 L422.00,185.18 L422.20,184.20 L422.40,183.21 L422.60,182.23 L422.80,181.23 L423.00,180.23 L423.20,179.23 L423.40,178.23 L423.60,177.22 L423.80,176.21 L424.00,175.20 L424.20,174.19 L424.40,173.18 L424.60,172.16 L424.80,171.15 L425.00,170.14 L425.20,169.13 L425.40,168.12 L425.60,167.11 L425.80,166.11 L426.00,165.11 L426.20,164.11 L426.40,163.12 L426.60,162.13 L426.80,161.15 L427.00,160.17 L427.20,159.20 L427.40,158.24 L427.60,157.29 L427.80,156.34 L428.00,155.40 L428.20,154.48 L428.40,153.56 L428.60,152.65 L428.80,151.76 L429.00,150.88 L429.20,150.01 L429.40,149.16 L429.60,148.32 L429.80,147.50 L430.00,146.70 L430.20,145.91 L430.40,145.14 L430.60,144.40 L430.80,143.67 L431.00,142.96 L431.20,142.28 L431.40,141.62 L431.60,140.98 L431.80,140.37 L432.00,139.78 L432.20,139.22 L432.40,138.68 L432.60,138.17 L432.80,137.69 L433.00,137.24 L433.20,136.81 L433.40,136.42 L433.60,136.05 L433.80,135.72 L434.00,135.42 L434.20,135.15 L434.40,134.91 L434.60,134.71 L434.80,134.54 L435.00,134.41 L435.20,134.31 L435.40,134.24 L435.60,134.21 L435.80,134.22 L436.00,134.26 L436.20,134.35 L436.40,134.46 L436.60,134.62 L436.80,134.81 L437.00,135.05 L437.20,135.32 L437.40,135.63 L437.60,135.98 L437.80,136.37 L438.00,136.80 L438.20,137.27 L438.40,137.78 L438.60,138.33 L438.80,138.92 L439.00,139.55 L439.20,140.22 L439.40,140.93 L439.60,141.68 L439.80,142.47 L440.00,143.30 L440.20,144.17 L440.40,145.08 L440.60,146.03 L440.80,147.02 L441.00,148.05 L441.20,149.12 L441.40,150.22 L441.60,151.35 L441.80,152.53 L442.00,153.73 L442.20,154.97 L442.40,156.24 L442.60,157.55 L442.80,158.89 L443.00,160.26 L443.20,161.65 L443.40,163.08 L443.60,164.54 L443.80,166.02 L444.00,167.53 L444.20,169.06 L444.40,170.61 L444.60,172.19 L444.80,173.78 L445.00,175.40 L445.20,177.03 L445.40,178.68 L445.60,180.35 L445.80,182.03 L446.00,183.72 L446.20,185.43 L446.40,187.14 L446.60,188.87 L446.80,190.60 L447.00,192.35 L447.20,194.09 L447.40,195.85 L447.60,197.60 L447.80,199.36 L448.00,201.12 L448.20,202.89 L448.40,204.65 L448.60,206.41 L448.80,208.17 L449.00,209.92 L449.20,211.67 L449.40,213.41 L449.60,215.15 L449.80,216.88 L450.00,218.60 L450.20,220.31 L450.40,222.00 L450.60,223.69 L450.80,225.36 L451.00,227.02 L451.20,228.67 L451.40,230.30 L451.60,231.91 L451.80,233.50 L452.00,235.07 L452.20,236.63 L452.40,238.16 L452.60,239.67 L452.80,241.16 L453.00,242.62 L453.20,244.07 L453.40,245.48 L453.60,246.87 L453.80,248.24 L454.00,249.58 L454.20,250.89 L454.40,252.17 L454.60,253.42 L454.80,254.64 L455.00,255.83 L455.20,256.99 L455.40,258.12 L455.60,259.21 L455.80,260.27 L456.00,261.29 L456.20,262.27 L456.40,263.22 L456.60,264.13 L456.80,265.00 L457.00,265.83 L457.20,266.61 L457.40,267.36 L457.60,268.06 L457.80,268.71 L458.00,269.32 L458.20,269.88 L458.40,270.39 L458.60,270.86 L458.80,271.28 L459.00,271.65 L459.20,271.97 L459.40,272.24 L459.60,272.46 L459.80,272.63 L460.00,272.75 L460.20,272.82 L460.40,272.84 L460.60,272.81 L460.80,272.72 L461.00,272.58 L461.20,272.39 L461.40,272.15 L461.60,271.85 L461.80,271.50 L462.00,271.11 L462.20,270.66 L462.40,270.17 L462.60,269.62 L462.80,269.03 L463.00,268.39 L463.20,267.71 L463.40,266.98 L463.60,266.21 L463.80,265.39 L464.00,264.53 L464.20,263.62 L464.40,262.68 L464.60,261.69 L464.80,260.66 L465.00,259.60 L465.20,258.49 L465.40,257.35 L465.60,256.17 L465.80,254.96 L466.00,253.71 L466.20,252.43 L466.40,251.12 L466.60,249.77 L466.80,248.39 L467.00,246.99 L467.20,245.55 L467.40,244.09 L467.60,242.59 L467.80,241.08 L468.00,239.53 L468.20,237.97 L468.40,236.38 L468.60,234.77 L468.80,233.13 L469.00,231.48 L469.20,229.81 L469.40,228.12 L469.60,226.41 L469.80,224.69 L470.00,222.95 L470.20,221.20 L470.40,219.43 L470.60,217.65 L470.80,215.86 L471.00,214.06 L471.20,212.24 L471.40,210.42 L471.60,208.59 L471.80,206.75 L472.00,204.91 L472.20,203.05 L472.40,201.19 L472.60,199.33 L472.80,197.46 L473.00,195.59 L473.20,193.71 L473.40,191.84 L473.60,189.96 L473.80,188.08 L474.00,186.20 L474.20,184.33 L474.40,182.45 L474.60,180.58 L474.80,178.72 L475.00,176.86 L475.20,175.00 L475.40,173.15 L475.60,171.31 L475.80,169.48 L476.00,167.65 L476.20,165.84 L476.40,164.04 L476.60,162.25 L476.80,160.47 L477.00,158.70 L477.20,156.95 L477.40,155.21 L477.60,153.49 L477.80,151.78 L478.00,150.09 L478.20,148.41 L478.40,146.76 L478.60,145.12 L478.80,143.50 L479.00,141.90 L479.20,140.31 L479.40,138.75 L479.60,137.21 L479.80,135.70 L480.00,134.20 L480.20,132.72 L480.40,131.27 L480.60,129.83 L480.80,128.42 L481.00,127.03 L481.20,125.67 L481.40,124.32 L481.60,123.00 L481.80,121.70 L482.00,120.43 L482.20,119.18 L482.40,117.95 L482.60,116.74 L482.80,115.56 L483.00,114.40 L483.20,113.27 L483.40,112.15 L483.60,111.06 L483.80,109.99 L484.00,108.94 L484.20,107.92 L484.40,106.92 L484.60,105.93 L484.80,104.97 L485.00,104.04 L485.20,103.12 L485.40,102.22 L485.60,101.34 L485.80,100.49 L486.00,99.65 L486.20,98.84 L486.40,98.04 L486.60,97.26 L486.80,96.50 L487.00,95.76 L487.20,95.04 L487.40,94.34 L487.60,93.65 L487.80,92.99 L488.00,92.33 L488.20,91.70 L488.40,91.08 L488.60,90.48 L488.80,89.90 L489.00,89.34 L489.20,88.79 L489.40,88.26 L489.60,87.74 L489.80,87.24 L490.00,86.76 L490.20,86.30 L490.40,85.85 L490.60,85.42 L490.80,85.01 L491.00,84.61 L491.20,84.23 L491.40,83.87 L491.60,83.52 L491.80,83.19 L492.00,82.88 L492.20,82.59 L492.40,82.31 L492.60,82.05 L492.80,81.81 L493.00,81.59 L493.20,81.39 L493.40,81.21 L493.60,81.04 L493.80,80.89 L494.00,80.77 L494.20,80.66 L494.40,80.57 L494.60,80.50 L494.80,80.45 L495.00,80.42 L495.20,80.41 L495.40,80.42 L495.60,80.44 L495.80,80.49 L496.00,80.55 L496.20,80.63 L496.40,80.73 L496.60,80.84 L496.80,80.98 L497.00,81.13 L497.20,81.30 L497.40,81.48 L497.60,81.69 L497.80,81.90 L498.00,82.14 L498.20,82.39 L498.40,82.66 L498.60,82.94 L498.80,83.24 L499.00,83.55 L499.20,83.88 L499.40,84.22 L499.60,84.58 L499.80,84.95 L500.00,85.33 L500.20,85.73 L500.40,86.14 L500.60,86.56 L500.80,86.99 L501.00,87.44 L501.20,87.90 L501.40,88.37 L501.60,88.85 L501.80,89.35 L502.00,89.85 L502.20,90.37 L502.40,90.91 L502.60,91.45 L502.80,92.00 L503.00,92.57 L503.20,93.15 L503.40,93.74 L503.60,94.34 L503.80,94.95 L504.00,95.58 L504.20,96.21 L504.40,96.86 L504.60,97.52 L504.80,98.20 L505.00,98.88 L505.20,99.58 L505.40,100.29 L505.60,101.01 L505.80,101.75 L506.00,102.50 L506.20,103.26 L506.40,104.04 L506.60,104.82 L506.80,105.63 L507.00,106.44 L507.20,107.27 L507.40,108.12 L507.60,108.98 L507.80,109.86 L508.00,110.75 L508.20,111.65 L508.40,112.57 L508.60,113.51 L508.80,114.47 L509.00,115.44 L509.20,116.42 L509.40,117.43 L509.60,118.45 L509.80,119.49 L510.00,120.55 L510.20,121.62 L510.40,122.71 L510.60,123.82 L510.80,124.95 L511.00,126.10 L511.20,127.27 L511.40,128.45 L511.60,129.66 L511.80,130.88 L512.00,132.12 L512.20,133.38 L512.40,134.67 L512.60,135.97 L512.80,137.28 L513.00,138.62 L513.20,139.97 L513.40,141.35 L513.60,142.73 L513.80,144.14 L514.00,145.55 L514.20,146.99 L514.40,148.44 L514.60,149.90 L514.80,151.38 L515.00,152.87 L515.20,154.37 L515.40,155.88 L515.60,157.41 L515.80,158.94 L516.00,160.49 L516.20,162.04 L516.40,163.60 L516.60,165.16 L516.80,166.73 L517.00,168.30 L517.20,169.88 L517.40,171.46 L517.60,173.04 L517.80,174.62 L518.00,176.19 L518.20,177.77 L518.40,179.35 L518.60,180.92 L518.80,182.49 L519.00,184.06 L519.20,185.63 L519.40,187.20 L519.60,188.76 L519.80,190.33 L520.00,191.89 L520.20,193.45 L520.40,195.01 L520.60,196.58 L520.80,198.14 L521.00,199.70 L521.20,201.26 L521.40,202.82 L521.60,204.38 L521.80,205.94 L522.00,207.50 L522.20,209.06 L522.40,210.62 L522.60,212.19 L522.80,213.76 L523.00,215.33 L523.20,216.90 L523.40,218.48 L523.60,220.06 L523.80,221.64 L524.00,223.23 L524.20,224.82 L524.40,226.42 L524.60,228.02 L524.80,229.62 L525.00,231.22 L525.20,232.83 L525.40,234.44 L525.60,236.04 L525.80,237.65 L526.00,239.26 L526.20,240.86 L526.40,242.47 L526.60,244.07 L526.80,245.67 L527.00,247.26 L527.20,248.85 L527.40,250.44 L527.60,252.02 L527.80,253.59 L528.00,255.16 L528.20,256.72 L528.40,258.27 L528.60,259.81 L528.80,261.35 L529.00,262.87 L529.20,264.38 L529.40,265.87 L529.60,267.36 L529.80,268.83 L530.00,270.29 L530.20,271.73 L530.40,273.15 L530.60,274.56 L530.80,275.96 L531.00,277.33 L531.20,278.69 L531.40,280.03 L531.60,281.35 L531.80,282.65 L532.00,283.93 L532.20,285.19 L532.40,286.42 L532.60,287.64 L532.80,288.83 L533.00,290.00 L533.20,291.15 L533.40,292.28 L533.60,293.38 L533.80,294.45 L534.00,295.50 L534.20,296.53 L534.40,297.52 L534.60,298.50 L534.80,299.44 L535.00,300.36 L535.20,301.25 L535.40,302.12 L535.60,302.95 L535.80,303.76 L536.00,304.53 L536.20,305.28 L536.40,306.00 L536.60,306.69 L536.80,307.34 L537.00,307.97 L537.20,308.56 L537.40,309.12 L537.60,309.65 L537.80,310.15 L538.00,310.61 L538.20,311.03 L538.40,311.43 L538.60,311.79 L538.80,312.11 L539.00,312.39 L539.20,312.65 L539.40,312.86 L539.60,313.04 L539.80,313.18 L540.00,313.28 L540.20,313.34 L540.40,313.37 L540.60,313.36 L540.80,313.31 L541.00,313.22 L541.20,313.09 L541.40,312.93 L541.60,312.72 L541.80,312.48 L542.00,312.19 L542.20,311.87 L542.40,311.50 L542.60,311.10 L542.80,310.65 L543.00,310.17 L543.20,309.65 L543.40,309.10 L543.60,308.50 L543.80,307.87 L544.00,307.20 L544.20,306.50 L544.40,305.76 L544.60,304.99 L544.80,304.19 L545.00,303.34 L545.20,302.47 L545.40,301.56 L545.60,300.62 L545.80,299.66 L546.00,298.66 L546.20,297.63 L546.40,296.57 L546.60,295.49 L546.80,294.38 L547.00,293.25 L547.20,292.09 L547.40,290.91 L547.60,289.70 L547.80,288.48 L548.00,287.23 L548.20,285.97 L548.40,284.68 L548.60,283.38 L548.80,282.06 L549.00,280.72 L549.20,279.37 L549.40,278.00 L549.60,276.62 L549.80,275.23 L550.00,273.82 L550.20,272.40 L550.40,270.97 L550.60,269.53 L550.80,268.08 L551.00,266.62 L551.20,265.15 L551.40,263.67 L551.60,262.19 L551.80,260.71 L552.00,259.21 L552.20,257.72 L552.40,256.22 L552.60,254.71 L552.80,253.21 L553.00,251.70 L553.20,250.20 L553.40,248.69 L553.60,247.18 L553.80,245.68 L554.00,244.18 L554.20,242.68 L554.40,241.19 L554.60,239.69 L554.80,238.21 L555.00,236.73 L555.20,235.25 L555.40,233.78 L555.60,232.31 L555.80,230.86 L556.00,229.41 L556.20,227.96 L556.40,226.53 L556.60,225.10 L556.80,223.68 L557.00,222.27 L557.20,220.87 L557.40,219.48 L557.60,218.11 L557.80,216.74 L558.00,215.38 L558.20,214.03 L558.40,212.70 L558.60,211.38 L558.80,210.07 L559.00,208.78 L559.20,207.49 L559.40,206.22 L559.60,204.97 L559.80,203.73 L560.00,202.50 L560.20,201.29 L560.40,200.10 L560.60,198.92 L560.80,197.75 L561.00,196.60 L561.20,195.47 L561.40,194.35 L561.60,193.24 L561.80,192.15 L562.00,191.08 L562.20,190.02 L562.40,188.97 L562.60,187.94 L562.80,186.93 L563.00,185.93 L563.20,184.94 L563.40,183.97 L563.60,183.01 L563.80,182.07 L564.00,181.14 L564.20,180.23 L564.40,179.33 L564.60,178.44 L564.80,177.57 L565.00,176.72 L565.20,175.87 L565.40,175.05 L565.60,174.23 L565.80,173.43 L566.00,172.65 L566.20,171.88 L566.40,171.12 L566.60,170.38 L566.80,169.64 L567.00,168.93 L567.20,168.22 L567.40,167.53 L567.60,166.86 L567.80,166.19 L568.00,165.54 L568.20,164.90 L568.40,164.27 L568.60,163.65 L568.80,163.05 L569.00,162.46 L569.20,161.87 L569.40,161.30 L569.60,160.75 L569.80,160.20 L570.00,159.66 L570.20,159.14 L570.40,158.63 L570.60,158.12 L570.80,157.63 L571.00,157.15 L571.20,156.68 L571.40,156.22 L571.60,155.77 L571.80,155.33 L572.00,154.90 L572.20,154.48 L572.40,154.08 L572.60,153.68 L572.80,153.29 L573.00,152.91 L573.20,152.54 L573.40,152.17 L573.60,151.82 L573.80,151.47 L574.00,151.13 L574.20,150.80 L574.40,150.47 L574.60,150.15 L574.80,149.84 L575.00,149.53 L575.20,149.23 L575.40,148.94 L575.60,148.64 L575.80,148.35 L576.00,148.06" fill="none" stroke="#ee2a2a" stroke-width="2.1" stroke-linejoin="round"/>
<g stroke="#000" stroke-width="1.3"><line x1="65.80" y1="382.5" x2="65.80" y2="374.2"/><line x1="65.80" y1="42.5" x2="65.80" y2="50.8"/><line x1="101.97" y1="382.5" x2="101.97" y2="378.1"/><line x1="101.97" y1="42.5" x2="101.97" y2="46.9"/><line x1="138.15" y1="382.5" x2="138.15" y2="374.2"/><line x1="138.15" y1="42.5" x2="138.15" y2="50.8"/><line x1="174.32" y1="382.5" x2="174.32" y2="378.1"/><line x1="174.32" y1="42.5" x2="174.32" y2="46.9"/><line x1="210.50" y1="382.5" x2="210.50" y2="374.2"/><line x1="210.50" y1="42.5" x2="210.50" y2="50.8"/><line x1="246.68" y1="382.5" x2="246.68" y2="378.1"/><line x1="246.68" y1="42.5" x2="246.68" y2="46.9"/><line x1="282.85" y1="382.5" x2="282.85" y2="374.2"/><line x1="282.85" y1="42.5" x2="282.85" y2="50.8"/><line x1="319.02" y1="382.5" x2="319.02" y2="378.1"/><line x1="319.02" y1="42.5" x2="319.02" y2="46.9"/><line x1="355.20" y1="382.5" x2="355.20" y2="374.2"/><line x1="355.20" y1="42.5" x2="355.20" y2="50.8"/><line x1="391.38" y1="382.5" x2="391.38" y2="378.1"/><line x1="391.38" y1="42.5" x2="391.38" y2="46.9"/><line x1="427.55" y1="382.5" x2="427.55" y2="374.2"/><line x1="427.55" y1="42.5" x2="427.55" y2="50.8"/><line x1="463.72" y1="382.5" x2="463.72" y2="378.1"/><line x1="463.72" y1="42.5" x2="463.72" y2="46.9"/><line x1="499.90" y1="382.5" x2="499.90" y2="374.2"/><line x1="499.90" y1="42.5" x2="499.90" y2="50.8"/><line x1="536.07" y1="382.5" x2="536.07" y2="378.1"/><line x1="536.07" y1="42.5" x2="536.07" y2="46.9"/><line x1="572.25" y1="382.5" x2="572.25" y2="374.2"/><line x1="572.25" y1="42.5" x2="572.25" y2="50.8"/><line x1="64" y1="369.40" x2="72.3" y2="369.40"/><line x1="576" y1="369.40" x2="567.7" y2="369.40"/><line x1="64" y1="313.55" x2="68.4" y2="313.55"/><line x1="576" y1="313.55" x2="571.6" y2="313.55"/><line x1="64" y1="257.70" x2="72.3" y2="257.70"/><line x1="576" y1="257.70" x2="567.7" y2="257.70"/><line x1="64" y1="201.85" x2="68.4" y2="201.85"/><line x1="576" y1="201.85" x2="571.6" y2="201.85"/><line x1="64" y1="146.00" x2="72.3" y2="146.00"/><line x1="576" y1="146.00" x2="567.7" y2="146.00"/><line x1="64" y1="90.15" x2="68.4" y2="90.15"/><line x1="576" y1="90.15" x2="571.6" y2="90.15"/></g>
<rect x="64" y="42.5" width="512" height="340.0" fill="none" stroke="#000" stroke-width="1.3"/>
<rect x="88.2" y="56.8" width="2.4" height="2.4" fill="#0000ff"/>
<text x="114.97 123.36 126.90 131.20 134.77 145.77 153.34 157.95 162.45 165.42 171.88 175.48 185.33 193.17 199.64 203.26 207.44 215.21 224.60" y="61.8" font-size="12.4">Altimetric MSL (EN)</text>
<text x="321.12 329.15 332.29 339.65 346.92 353.94 358.94 367.46 371.45 378.76 382.61 390.04 397.50 404.68 408.96 420.36 431.44 435.49 442.62" y="61.8" font-size="12.4">Slope = 0.876 mm/yr</text>
<text x="82.07 92.48 95.74 104.27 112.64 120.16 127.96 131.18 138.70 146.35 154.50 158.26 164.24 171.83 180.97 190.03 197.83 201.08 209.76 215.87" y="366.7" font-size="12.4">© CNES,ESA,LEGOS,CLS</text>
<text x="50.73 58.33 65.77 73.21" y="399.6" font-size="12.4">2004</text>
<text x="123.08 130.68 138.12 145.52" y="399.6" font-size="12.4">2005</text>
<text x="195.43 203.03 210.47 217.92" y="399.6" font-size="12.4">2006</text>
<text x="267.78 275.38 282.82 290.24" y="399.6" font-size="12.4">2007</text>
<text x="340.13 347.73 355.17 362.61" y="399.6" font-size="12.4">2008</text>
<text x="412.48 420.08 427.52 434.93" y="399.6" font-size="12.4">2009</text>
<text x="484.83 492.43 499.81 507.31" y="399.6" font-size="12.4">2010</text>
<text x="557.18 564.78 572.16 579.60" y="399.6" font-size="12.4">2011</text>
<text x="44.88 52.30" y="373.4" font-size="12.4">47</text>
<text x="44.88 52.33" y="261.7" font-size="12.4">48</text>
<text x="44.88 52.29" y="150.0" font-size="12.4">49</text>
<text x="-1.26 9.12 15.84 23.60 30.73 34.09 42.05 48.77 56.24 60.01 66.66 74.04 80.78 88.05 91.05 94.67 99.31 106.33 117.70" y="0" font-size="12.4" transform="translate(32.6,272.8) rotate(-90)">Mean Sea Level (cm)</text>
</svg></body></html>
